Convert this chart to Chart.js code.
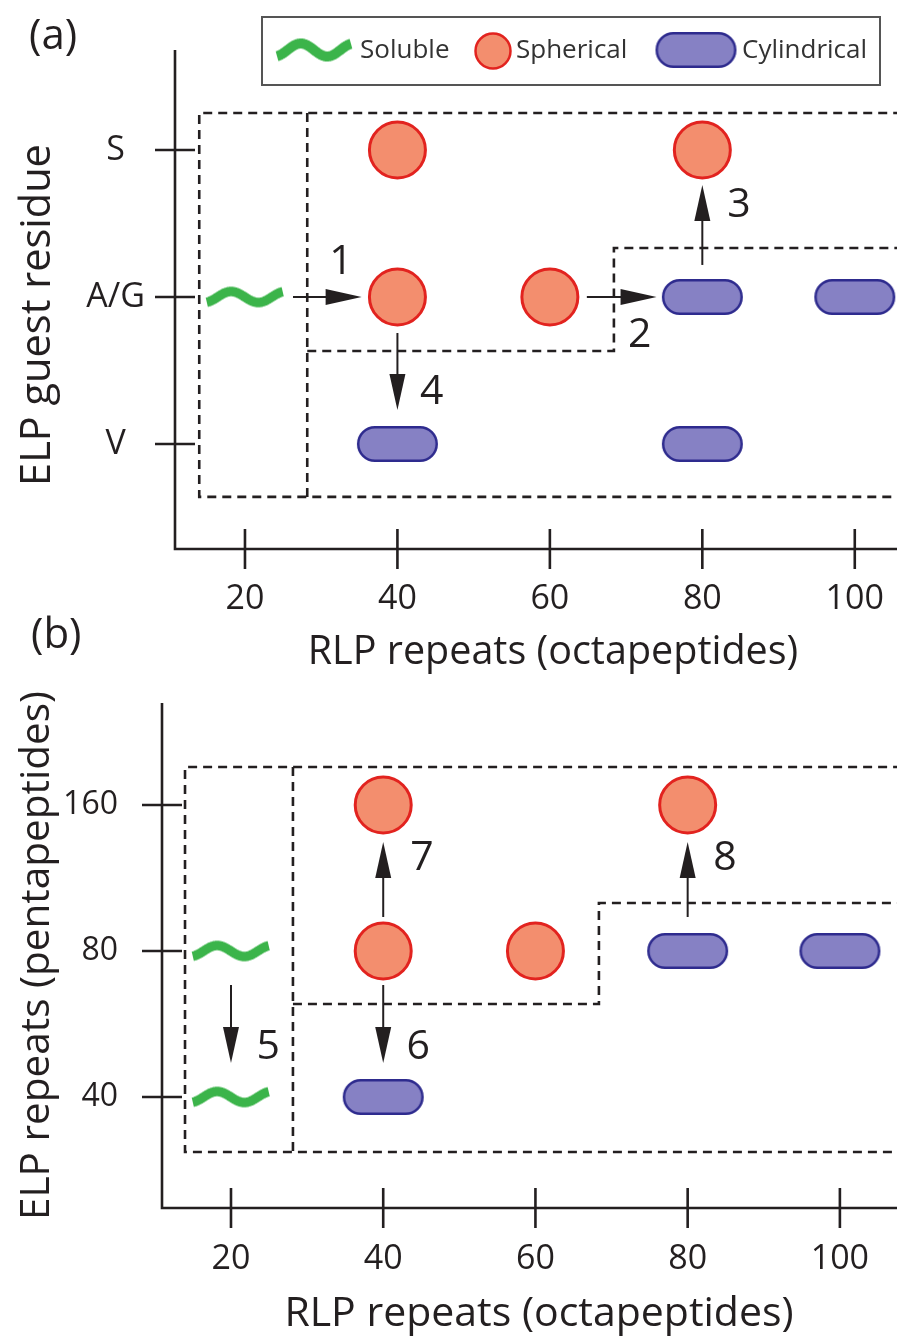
<!DOCTYPE html>
<html><head><meta charset="utf-8">
<script src="https://cdn.jsdelivr.net/npm/chart.js@4.4.1/dist/chart.umd.min.js"></script>
<style>
html,body{margin:0;padding:0;background:#fff;overflow:hidden;}
#wrap{position:relative;width:897px;height:1341px;overflow:hidden;background:#fff;}
.box{position:absolute;left:0;}
</style></head><body>
<div id="wrap">
<div class="box" style="top:0;width:931px;height:680px"><canvas id="chartA" width="931" height="680"></canvas></div>
<div class="box" style="top:600px;width:916px;height:741px"><canvas id="chartB" width="916" height="741"></canvas></div>
</div>
<script>
// ---------------- data ----------------
const rlpTicks = [20, 40, 60, 80, 100];              // x tick labels (RLP repeats)
const residueCats = ['V', 'A/G', 'S'];               // panel (a) y categories, bottom -> top
const elpCats = ['40', '80', '160'];                 // panel (b) y categories, bottom -> top
const seriesNames = ['Soluble', 'Spherical', 'Cylindrical'];

const solubleA = [[20, 'A/G']];
const sphericalA = [[40, 'S'], [80, 'S'], [40, 'A/G'], [60, 'A/G']];
const cylindricalA = [[80, 'A/G'], [100, 'A/G'], [40, 'V'], [80, 'V']];

const solubleB = [[20, '80'], [20, '40']];
const sphericalB = [[40, '160'], [80, '160'], [40, '80'], [60, '80']];
const cylindricalB = [[40, '40'], [80, '80'], [100, '80']];

// phase boundary outlines: x in RLP repeats, y in category-index units
const boundsA = [
  [[120, 2.252], [14.0, 2.252], [14.0, -0.36], [120, -0.36]],
  [[28.17, 2.252], [28.17, -0.36]],
  [[28.17, 0.633], [68.4, 0.633], [68.4, 1.333], [120, 1.333]]
];
const boundsB = [
  [[120, 2.26], [13.96, 2.26], [13.96, -0.377], [120, -0.377]],
  [[28.14, 2.26], [28.14, -0.377]],
  [[28.14, 0.637], [68.34, 0.637], [68.34, 1.329], [120, 1.329]]
];
// transition arrows [x0, y0, x1, y1] and their labels [text, x, y]
const arrowsA = [[26.3, 1, 35.3, 1], [64.85, 1, 74.0, 1], [80, 1.218, 80, 1.762], [40, 0.755, 40, 0.231]];
const arrowLabelsA = [['1', 32.6, 1.238], ['2', 71.8, 0.741], ['3', 84.8, 1.626], ['4', 44.5, 0.354]];
const arrowsB = [[20, 0.767, 20, 0.233], [40, 0.767, 40, 0.233], [40, 1.233, 40, 1.747], [80, 1.233, 80, 1.747]];
const arrowLabelsB = [['5', 24.9, 0.342], ['6', 44.6, 0.342], ['7', 45.1, 1.637], ['8', 84.9, 1.637]];

// ---------------- styles ----------------
const FONT = "'Open Sans', 'Noto Sans', sans-serif";
const INK = '#231F20';
const GREEN = '#3BB44A';
const SPH_FILL = '#F38E6E', SPH_LINE = '#E2231F';
const CYL_FILL = '#8681C4', CYL_LINE = '#2E2B8E';

function makeWave(w, amp, lw) {
  const c = document.createElement('canvas');
  c.width = Math.ceil(w + lw); c.height = Math.ceil(amp + lw + 4);
  const g = c.getContext('2d');
  g.strokeStyle = GREEN; g.lineWidth = lw; g.lineCap = 'butt'; g.lineJoin = 'round';
  g.beginPath();
  const n = 80;
  for (let i = 0; i <= n; i++) {
    const u = i / n;
    const t = -0.4 * Math.PI + u * 2.8 * Math.PI;
    const x = lw / 2 + u * w;
    const y = c.height / 2 - (amp / 2) * Math.sin(t);
    if (i) g.lineTo(x, y); else g.moveTo(x, y);
  }
  g.stroke();
  return c;
}
function pillPath(g, x, y, w, h) {
  const r = h / 2;
  g.beginPath();
  g.moveTo(x + r, y);
  g.lineTo(x + w - r, y);
  g.arc(x + w - r, y + r, r, -Math.PI / 2, Math.PI / 2);
  g.lineTo(x + r, y + h);
  g.arc(x + r, y + r, r, Math.PI / 2, Math.PI * 1.5);
  g.closePath();
}
function makePill(w, h, lw) {
  const c = document.createElement('canvas');
  c.width = w + 2; c.height = h + 2;
  const g = c.getContext('2d');
  pillPath(g, 1 + lw / 2, 1 + lw / 2, w - lw, h - lw);
  g.fillStyle = CYL_FILL; g.fill();
  g.lineWidth = lw; g.strokeStyle = CYL_LINE; g.stroke();
  return c;
}
const waveImg = makeWave(76, 11, 9.5);
const pillImg = makePill(81, 36, 2.5);
const legendWave = makeWave(74, 13, 10);

function pts(list, cats) { return list.map(p => ({x: p[0], y: cats.indexOf(p[1])})); }
function boundSets(bounds) {
  return bounds.map(b => ({
    label: '', data: b.map(p => ({x: p[0], y: p[1]})), showLine: true, pointRadius: 0,
    borderColor: INK, borderWidth: 2.6, borderDash: [9, 6], fill: false, tension: 0, order: 5
  }));
}
function markerSets(sol, sph, cyl, cats) {
  return [
    {label: seriesNames[0], data: pts(sol, cats), pointStyle: waveImg, pointRadius: 10, order: 1},
    {label: seriesNames[1], data: pts(sph, cats), pointStyle: 'circle', pointRadius: 28,
     backgroundColor: SPH_FILL, borderColor: SPH_LINE, borderWidth: 3, order: 1},
    {label: seriesNames[2], data: pts(cyl, cats), pointStyle: pillImg, pointRadius: 10, order: 1}
  ];
}

function drawArrow(ctx, x0, y0, x1, y1) {
  const dx = x1 - x0, dy = y1 - y0, L = Math.hypot(dx, dy), ux = dx / L, uy = dy / L;
  const hl = 36, hw = 8;
  const bx = x1 - ux * hl, by = y1 - uy * hl;
  ctx.beginPath(); ctx.moveTo(x0, y0); ctx.lineTo(bx + ux * 2, by + uy * 2); ctx.stroke();
  ctx.beginPath(); ctx.moveTo(x1, y1);
  ctx.lineTo(bx - uy * hw, by + ux * hw); ctx.lineTo(bx + uy * hw, by - ux * hw);
  ctx.closePath(); ctx.fill();
}

const decorPlugin = {
  id: 'decor',
  afterDatasetsDraw(chart, args, o) {
    const {ctx, scales: {x, y}} = chart;
    ctx.save();
    ctx.strokeStyle = INK; ctx.fillStyle = INK; ctx.lineWidth = 2;
    o.arrows.forEach(a => drawArrow(ctx, x.getPixelForValue(a[0]), y.getPixelForValue(a[1]),
                                         x.getPixelForValue(a[2]), y.getPixelForValue(a[3])));
    ctx.font = '41px ' + FONT; ctx.textAlign = 'center'; ctx.textBaseline = 'middle';
    o.labels.forEach(l => ctx.fillText(l[0], x.getPixelForValue(l[1]), y.getPixelForValue(l[2])));
    ctx.restore();
  },
  afterDraw(chart, args, o) {
    const {ctx, chartArea: ca, scales: {x, y}} = chart;
    ctx.save();
    ctx.strokeStyle = INK; ctx.lineWidth = 2.6;
    ctx.beginPath();
    ctx.moveTo(ca.left, y.getPixelForValue(o.yTop));
    ctx.lineTo(ca.left, ca.bottom);
    ctx.lineTo(ca.right, ca.bottom);
    ctx.stroke();
    ctx.beginPath();
    x.ticks.forEach(t => { const px = x.getPixelForValue(t.value); ctx.moveTo(px, ca.bottom - 20); ctx.lineTo(px, ca.bottom + 20); });
    y.ticks.forEach(t => { const py = y.getPixelForValue(t.value); ctx.moveTo(ca.left - 20, py); ctx.lineTo(ca.left + 20, py); });
    ctx.stroke();
    // panel letter
    ctx.fillStyle = INK; ctx.font = '42px ' + FONT; ctx.textAlign = 'left'; ctx.textBaseline = 'middle';
    ctx.fillText(o.panel[0], o.panel[1], o.panel[2]);
    // boxed legend
    if (o.legend) {
      const ds = chart.data.datasets;
      ctx.lineWidth = 2; ctx.strokeStyle = '#555';
      ctx.strokeRect(262, 17, 618, 68);
      ctx.font = '26px ' + FONT; ctx.fillStyle = '#333';
      ctx.drawImage(legendWave, 314 - legendWave.width / 2, 50 - legendWave.height / 2);
      ctx.fillText(ds[0].label, 360, 51);
      ctx.beginPath(); ctx.arc(493, 51, 17.5, 0, Math.PI * 2);
      ctx.fillStyle = SPH_FILL; ctx.fill(); ctx.lineWidth = 2.5; ctx.strokeStyle = SPH_LINE; ctx.stroke();
      ctx.fillStyle = '#333';
      ctx.fillText(ds[1].label, 516, 51);
      ctx.drawImage(pillImg, 696 - pillImg.width / 2, 50 - pillImg.height / 2);
      ctx.fillText(ds[2].label, 742, 51);
    }
    ctx.restore();
  }
};

function makeChart(id, p) {
  return new Chart(document.getElementById(id), {
    type: 'scatter',
    data: {datasets: markerSets(p.sol, p.sph, p.cyl, p.cats).concat(boundSets(p.bounds))},
    options: {
      responsive: false, animation: false, events: [],
      layout: {autoPadding: false, padding: {top: p.padTop, left: 0, right: 0, bottom: 0}},
      plugins: {
        legend: {display: false}, tooltip: {enabled: false},
        decor: {arrows: p.arrows, labels: p.arrowLabels, yTop: p.yTop, panel: p.panel, legend: p.legend}
      },
      scales: {
        x: {
          type: 'linear', min: p.xMin, max: 110,
          afterBuildTicks: s => { s.ticks = rlpTicks.map(v => ({value: v})); },
          afterFit: s => { s.height = p.xHeight; s.paddingLeft = 0; s.paddingRight = 0; },
          grid: {display: false, drawTicks: true, tickLength: p.xTickGap}, border: {display: false},
          ticks: {font: {family: FONT, size: 34}, color: INK, padding: 0, maxRotation: 0, autoSkip: false},
          title: {display: true, text: 'RLP repeats (octapeptides)', color: INK,
                  font: {family: FONT, size: p.xTitleSize, lineHeight: 1}, padding: {top: 0, bottom: p.xTitlePad}}
        },
        y: {
          type: 'linear', min: p.yMin, max: p.yMax,
          afterBuildTicks: s => { s.ticks = p.cats.map((c, i) => ({value: i})); },
          afterFit: s => { s.width = p.yWidth; s.paddingTop = 0; s.paddingBottom = 0; },
          grid: {display: false, drawTicks: false}, border: {display: false},
          ticks: {font: {family: FONT, size: p.yTickSize}, color: INK, padding: p.yTickPad, crossAlign: p.crossAlign,
                  callback: v => p.cats[v]},
          title: {display: true, text: p.yTitle, color: INK,
                  font: {family: FONT, size: p.yTitleSize}, padding: {top: 13, bottom: 0}}
        }
      }
    },
    plugins: [decorPlugin]
  });
}

makeChart('chartA', {
  sol: solubleA, sph: sphericalA, cyl: cylindricalA, cats: residueCats, bounds: boundsA,
  arrows: arrowsA, arrowLabels: arrowLabelsA, yTop: 2.680, panel: ['(a)', 29, 37], legend: true,
  padTop: 81, xMin: 10.82, yMin: -0.7143, yMax: 2.4694, xHeight: 131, yWidth: 175,
  xTickGap: 30, xTitleSize: 39.5, xTitlePad: 8, yTickSize: 34, yTickPad: 30, crossAlign: 'center',
  yTitle: 'ELP guest residue', yTitleSize: 41.5
});
makeChart('chartB', {
  sol: solubleB, sph: sphericalB, cyl: cylindricalB, cats: elpCats, bounds: boundsB,
  arrows: arrowsB, arrowLabels: arrowLabelsB, yTop: 2.6986, panel: ['(b)', 31, 36], legend: false,
  padTop: 103, xMin: 10.936, yMin: -0.7603, yMax: 2.6986, xHeight: 133, yWidth: 162,
  xTickGap: 31, xTitleSize: 41, xTitlePad: 6, yTickSize: 32, yTickPad: 44, crossAlign: 'near',
  yTitle: 'ELP repeats (pentapeptides)', yTitleSize: 40.5
});
</script>
</body></html>
